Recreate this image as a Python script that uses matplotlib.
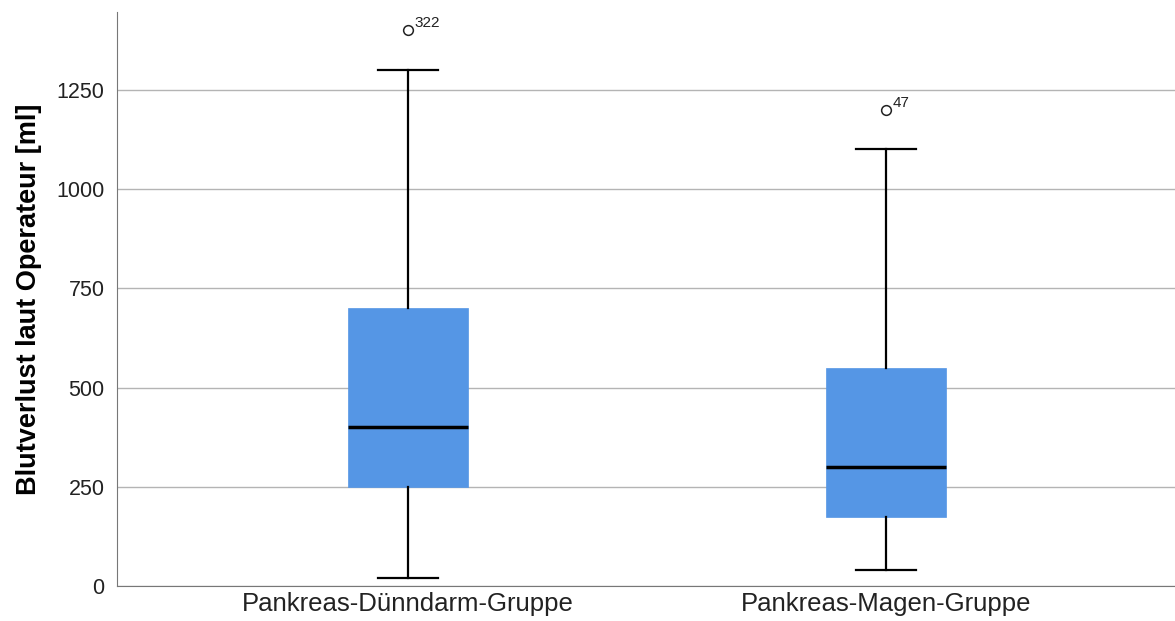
import matplotlib.pyplot as plt

plt.rcParams['font.family'] = ['Liberation Sans', 'DejaVu Sans']

gruppen = ['Pankreas-Dünndarm-Gruppe', 'Pankreas-Magen-Gruppe']
whisker_unten = [20, 40]
q1 = [250, 175]
median = [400, 300]
q3 = [700, 550]
whisker_oben = [1300, 1100]
ausreisser = [[1400], [1200]]
ausreisser_ids = ['322', '47']

stats = []
for i in range(len(gruppen)):
    stats.append(dict(whislo=whisker_unten[i], q1=q1[i], med=median[i],
                      q3=q3[i], whishi=whisker_oben[i], fliers=ausreisser[i],
                      label=gruppen[i]))

fig = plt.figure(figsize=(11.75, 6.21), dpi=100)
ax = fig.add_axes([0.0996, 0.0564, 0.9004, 0.9243])

ax.yaxis.grid(True, color='#b4b4b4', linewidth=1.0)
ax.set_axisbelow(True)

ax.bxp(stats, positions=[1, 2], widths=0.251, patch_artist=True,
       boxprops=dict(facecolor='#5596e5', edgecolor='#5596e5', linewidth=0.5),
       medianprops=dict(color='black', linewidth=2.5),
       whiskerprops=dict(color='black', linewidth=1.6),
       capprops=dict(color='black', linewidth=1.6),
       capwidths=0.125,
       flierprops=dict(marker='o', markerfacecolor='white', markeredgecolor='#222222',
                       markersize=7, markeredgewidth=1.1),
       zorder=3)

for i, ids in enumerate(ausreisser_ids):
    ax.annotate(ids, (i + 1, ausreisser[i][0]), xytext=(5, 2), textcoords='offset points',
                fontsize=11, color='#222222')

ax.set_xlim(0.392, 2.604)
ax.set_ylim(0, 1446)
ax.set_yticks([0, 250, 500, 750, 1000, 1250])
ax.set_ylabel('Blutverlust laut Operateur [ml]', fontsize=19.5, fontweight='bold', labelpad=10)
ax.tick_params(axis='y', labelsize=15.5, length=0, colors='#222222', pad=9)
ax.tick_params(axis='x', labelsize=18.5, length=0, colors='#222222', pad=4)

for s in ['top', 'right']:
    ax.spines[s].set_visible(False)
for s in ['left', 'bottom']:
    ax.spines[s].set_color('#777777')

fig.savefig('out.png', dpi=100)
